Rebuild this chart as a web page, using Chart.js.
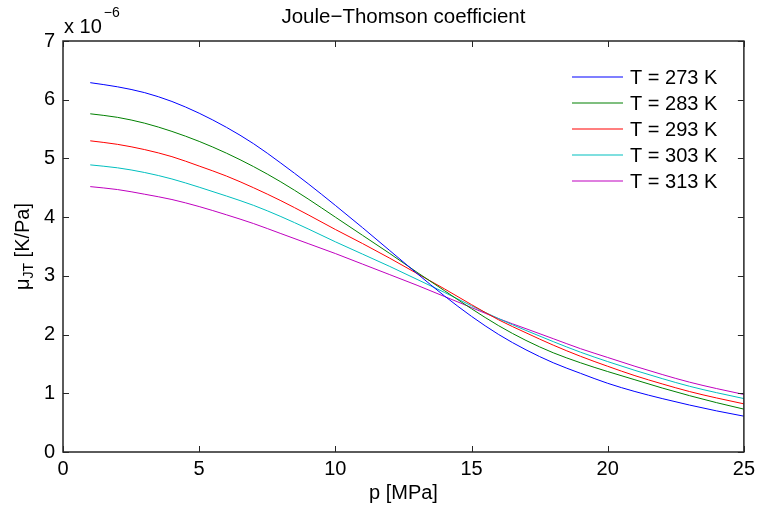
<!DOCTYPE html>
<html>
<head>
<meta charset="utf-8">
<script src="https://cdn.jsdelivr.net/npm/chart.js@4/dist/chart.umd.min.js"></script>
<style>
  html, body { margin: 0; padding: 0; background: #fff; }
  #wrap { width: 760px; height: 509px; }
</style>
</head>
<body>
<div id="wrap"><canvas id="grafico"></canvas></div>
<script>
// pressure [MPa]
const presion = [1, 2, 3, 4, 5, 6, 7, 8, 9, 10, 11, 12, 13, 14, 15, 16, 17, 18, 19, 20, 21, 22, 23, 24, 25];

// mu_JT values, in units of 1e-6 K/Pa
const mu273 = [6.29, 6.22, 6.12, 5.97, 5.77, 5.53, 5.25, 4.92, 4.57, 4.20, 3.82, 3.43, 3.04, 2.66, 2.31, 2.00, 1.74, 1.52, 1.34, 1.17, 1.03, 0.91, 0.80, 0.70, 0.61];
const mu283 = [5.76, 5.70, 5.60, 5.46, 5.29, 5.09, 4.86, 4.60, 4.31, 4.00, 3.69, 3.38, 3.06, 2.75, 2.44, 2.15, 1.90, 1.69, 1.52, 1.37, 1.23, 1.09, 0.96, 0.84, 0.73];
const mu293 = [5.30, 5.24, 5.15, 5.03, 4.87, 4.70, 4.50, 4.28, 4.04, 3.79, 3.55, 3.30, 3.04, 2.78, 2.51, 2.25, 2.03, 1.82, 1.63, 1.46, 1.30, 1.16, 1.03, 0.92, 0.82];
const mu303 = [4.89, 4.84, 4.76, 4.65, 4.51, 4.36, 4.20, 4.01, 3.80, 3.58, 3.37, 3.16, 2.94, 2.72, 2.49, 2.27, 2.07, 1.88, 1.70, 1.54, 1.39, 1.25, 1.12, 1.01, 0.91];
const mu313 = [4.52, 4.47, 4.39, 4.30, 4.18, 4.04, 3.89, 3.72, 3.55, 3.38, 3.20, 3.02, 2.84, 2.65, 2.46, 2.27, 2.10, 1.93, 1.76, 1.61, 1.46, 1.32, 1.19, 1.08, 0.98];

const etiquetas = ["T = 273 K", "T = 283 K", "T = 293 K", "T = 303 K", "T = 313 K"];
const colores = ["#0000ff", "#008000", "#ff0000", "#00bfbf", "#bf00bf"];
const series = [mu273, mu283, mu293, mu303, mu313];

const xTicks = [0, 5, 10, 15, 20, 25];
const yTicks = [0, 1, 2, 3, 4, 5, 6, 7];

const FUENTE = '"Liberation Sans", Arial, Helvetica, sans-serif';

// box, inward ticks, title, axis labels, exponent and legend (matlab look)
const decoracion = {
    id: "decoracion",
    afterDatasetsDraw(chart) {
        const c = chart.ctx;
        const a = chart.chartArea;
        const xs = chart.scales.x;
        const ys = chart.scales.y;
        c.save();

        c.strokeStyle = "#262626";
        c.lineWidth = 1.5;
        c.strokeRect(a.left, a.top, a.right - a.left, a.bottom - a.top);

        c.lineWidth = 1;
        const tl = 6;
        c.beginPath();
        xTicks.forEach(v => {
            const px = Math.round(xs.getPixelForValue(v)) + 0.5;
            c.moveTo(px, a.bottom); c.lineTo(px, a.bottom - tl);
            c.moveTo(px, a.top); c.lineTo(px, a.top + tl);
        });
        yTicks.forEach(v => {
            const py = Math.round(ys.getPixelForValue(v)) + 0.5;
            c.moveTo(a.left, py); c.lineTo(a.left + tl, py);
            c.moveTo(a.right, py); c.lineTo(a.right - tl, py);
        });
        c.stroke();

        c.fillStyle = "#000";
        c.textBaseline = "middle";

        // title
        c.font = "20.5px " + FUENTE;
        c.textAlign = "center";
        c.fillText("Joule\u2212Thomson coefficient", (a.left + a.right) / 2, 17);

        // x label
        c.font = "20px " + FUENTE;
        c.fillText("p [MPa]", (a.left + a.right) / 2, 493);

        // exponent
        c.textAlign = "left";
        c.fillText("x 10", a.left + 1, 27);
        const wx = c.measureText("x 10").width;
        c.font = "14px " + FUENTE;
        c.fillText("\u22126", a.left + 3 + wx, 13);

        // y label, rotated
        c.save();
        c.translate(23, (a.top + a.bottom) / 2);
        c.rotate(-Math.PI / 2);
        const p1 = "\u03bc", p2 = "JT", p3 = " [K/Pa]";
        c.font = "20px " + FUENTE;
        const w1 = c.measureText(p1).width;
        const w3 = c.measureText(p3).width;
        c.font = "14px " + FUENTE;
        const w2 = c.measureText(p2).width;
        const x0 = -(w1 + w2 + w3) / 2;
        c.font = "20px " + FUENTE;
        c.fillText(p1, x0, 0);
        c.font = "14px " + FUENTE;
        c.fillText(p2, x0 + w1, 6);
        c.font = "20px " + FUENTE;
        c.fillText(p3, x0 + w1 + w2, 0);
        c.restore();

        // legend
        c.font = "20px " + FUENTE;
        chart.data.datasets.forEach((ds, i) => {
            const y = 77 + i * 26;
            c.strokeStyle = ds.borderColor;
            c.lineWidth = 1.2;
            c.beginPath();
            c.moveTo(572, y);
            c.lineTo(623, y);
            c.stroke();
            c.fillText(ds.label, 630, y + 1);
        });

        c.restore();
    }
};

const ctx = document.getElementById("grafico").getContext("2d");
new Chart(ctx, {
    type: "line",
    data: {
        datasets: series.map((s, i) => ({
            label: etiquetas[i],
            data: s.map((v, j) => ({ x: presion[j], y: v })),
            borderColor: colores[i],
            borderWidth: 1,
            pointRadius: 0,
            fill: false,
            cubicInterpolationMode: "monotone"
        }))
    },
    options: {
        responsive: true,
        maintainAspectRatio: false,
        animation: false,
        layout: { padding: { top: 41, right: 15, left: 0, bottom: 0 } },
        plugins: {
            legend: { display: false },
            tooltip: { enabled: false }
        },
        scales: {
            x: {
                type: "linear",
                min: 0,
                max: 25,
                afterBuildTicks: s => { s.ticks = xTicks.map(v => ({ value: v })); },
                afterFit: s => { s.height = 57; },
                grid: { display: false, drawTicks: false },
                border: { display: false },
                ticks: { color: "#000", padding: 5, maxRotation: 0, font: { family: FUENTE, size: 20 } }
            },
            y: {
                min: 0,
                max: 7,
                afterBuildTicks: s => { s.ticks = yTicks.map(v => ({ value: v })); },
                afterFit: s => { s.width = 63; },
                grid: { display: false, drawTicks: false },
                border: { display: false },
                ticks: { color: "#000", padding: 8, font: { family: FUENTE, size: 20 } }
            }
        }
    },
    plugins: [decoracion]
});
</script>
</body>
</html>
